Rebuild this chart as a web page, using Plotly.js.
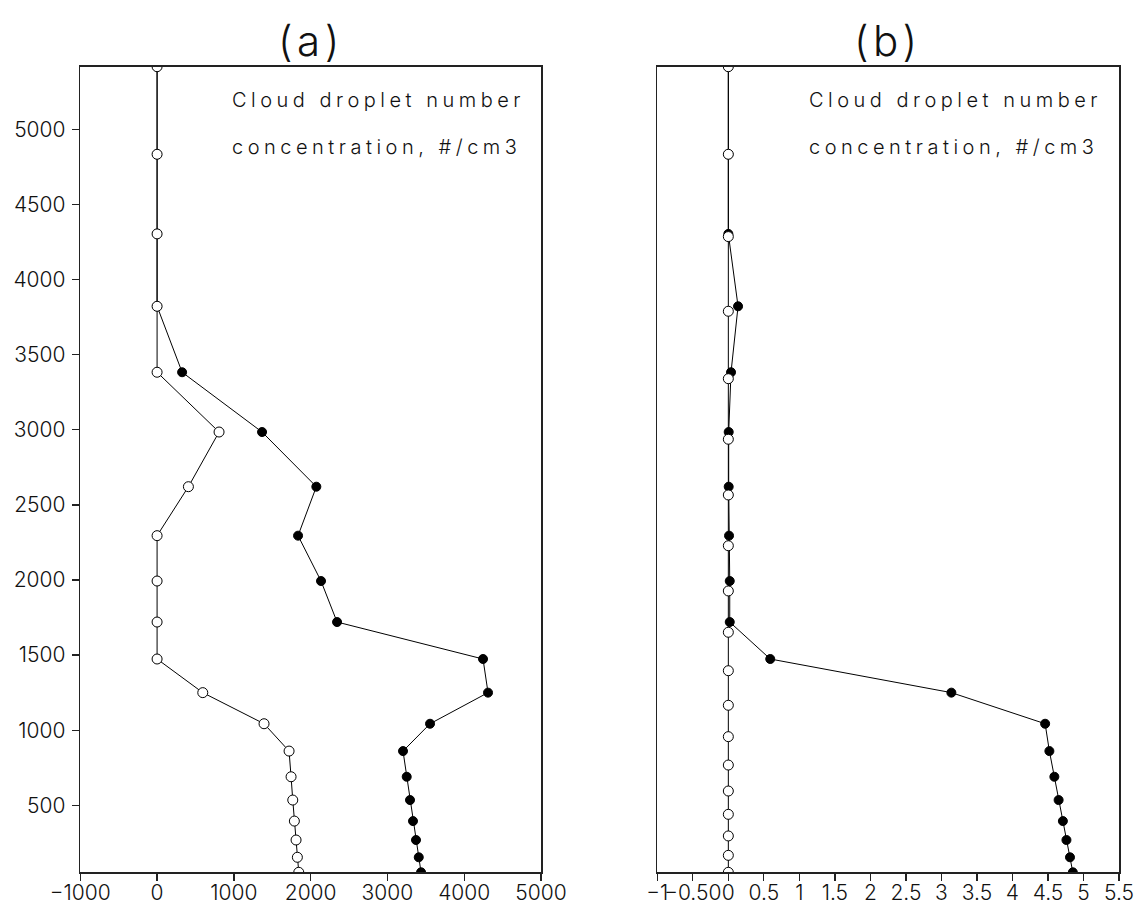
<!DOCTYPE html>
<html>
<head>
<meta charset="utf-8">
<script src="https://cdn.plot.ly/plotly-3.0.1.min.js"></script>
<style>
  html, body { margin: 0; padding: 0; background: #fff; }
  #chart { width: 1135px; height: 905px; }
  .annotation-text { letter-spacing: 4.5px; }
</style>
</head>
<body>
<div id="chart"></div>
<script>
// Heights (m) for panel (a) and the filled series of panel (b)
const levelsA = [54, 154, 269, 395, 535, 690, 861, 1043, 1250, 1474, 1720, 1993, 2295, 2621, 2985, 3383, 3822, 4304, 4834, 5417];
// Panel (a) values (#/cm3)
const aOpen   = [1845, 1827, 1810, 1788, 1767, 1745, 1719, 1393, 595, 0, 0, 0, 0, 408, 807, 0, 0, 0, 0, 0];
const aFilled = [3438, 3408, 3372, 3333, 3294, 3251, 3203, 3555, 4310, 4245, 2344, 2135, 1836, 2074, 1367, 326, 0, 0, 0, 0];
// Panel (b) values
const bFilled = [4.85, 4.81, 4.76, 4.71, 4.65, 4.59, 4.52, 4.46, 3.14, 0.59, 0.02, 0.02, 0.01, 0.005, 0.005, 0.038, 0.137, 0, 0, 0];
const levelsB = [54, 167, 296, 440, 595, 768, 957, 1166, 1396, 1652, 1927, 2228, 2566, 2937, 3340, 3789, 4286, 4834, 5417];
const bOpen   = [0, 0, 0, 0, 0, 0, 0, 0, 0, 0, 0, 0, 0, 0, 0, 0, 0, 0, 0];

// Tick labels
const aXTicks = [-1000, 0, 1000, 2000, 3000, 4000, 5000];
const aXTickText = ["\u22121000", "0", "1000", "2000", "3000", "4000", "5000"];
const yTicks = [500, 1000, 1500, 2000, 2500, 3000, 3500, 4000, 4500, 5000];
const bXTicks = [-1, -0.5, 0, 0.5, 1, 1.5, 2, 2.5, 3, 3.5, 4, 4.5, 5, 5.5];
const bXTickText = ["\u22121", "\u22120.50", "0", "0.5", "1", "1.5", "2", "2.5", "3", "3.5", "4", "4.5", "5", "5.5"];
const panelTitles = ["(a)", "(b)"];
const noteLines = ["Cloud droplet number", "concentration, #/cm3"];

const FONT = "Inter, 'DejaVu Sans', sans-serif";
const fontTick = { family: FONT, size: 21, color: "#111", weight: 300 };

const filledStyle = {
  mode: "lines+markers",
  line: { color: "#000", width: 1 },
  marker: { symbol: "circle", size: 9, color: "#000", line: { color: "#000", width: 1 } },
  showlegend: false, hoverinfo: "x+y"
};
const openStyle = {
  mode: "lines+markers",
  line: { color: "#000", width: 1 },
  marker: { symbol: "circle", size: 10, color: "#fff", line: { color: "#000", width: 1 } },
  showlegend: false, hoverinfo: "x+y"
};

const traces = [
  Object.assign({ x: aFilled, y: levelsA, xaxis: "x", yaxis: "y" }, filledStyle),
  Object.assign({ x: aOpen, y: levelsA, xaxis: "x", yaxis: "y" }, openStyle),
  Object.assign({ x: bFilled, y: levelsA, xaxis: "x2", yaxis: "y2" }, filledStyle),
  Object.assign({ x: bOpen, y: levelsB, xaxis: "x2", yaxis: "y2" }, openStyle)
];

const W = 1135, H = 905;
const frameA = [80.3, 541];
const frameB = [657.3, 1119];
const frameTop = 66.7, frameBottom = 872.3;
const yDom = [(H - frameBottom) / H, (H - frameTop) / H];

const axisCommon = {
  showline: true, mirror: true, linecolor: "#222", linewidth: 1.6,
  showgrid: false, zeroline: false, ticks: "outside", ticklen: 7, tickwidth: 1.3,
  tickcolor: "#222", tickfont: fontTick, tickangle: 0, automargin: false, fixedrange: true
};

const yRange = [levelsA[0], levelsA[levelsA.length - 1]];

const annotations = [];
[frameA, frameB].forEach((fr, i) => {
  annotations.push({
    xref: "paper", yref: "paper", x: (fr[0] + fr[1]) / 2 / W, y: (H - 40) / H,
    text: panelTitles[i], showarrow: false, xanchor: "center", yanchor: "middle",
    font: { family: FONT, size: 42, color: "#111", weight: 300 }
  });
  const xr = i === 0 ? "x domain" : "x2 domain";
  const yr = i === 0 ? "y domain" : "y2 domain";
  noteLines.forEach((t, j) => {
    annotations.push({
      xref: xr, yref: yr, x: 0.325, y: (frameBottom - (100 + 47 * j)) / (frameBottom - frameTop),
      text: t, showarrow: false, xanchor: "left", yanchor: "middle",
      font: { family: FONT, size: 20, color: "#111", weight: 300 }
    });
  });
});

const layout = {
  width: W, height: H,
  margin: { l: 0, r: 0, t: 0, b: 0 },
  paper_bgcolor: "#fff", plot_bgcolor: "#fff",
  font: { family: FONT, color: "#111" },
  showlegend: false,
  xaxis: Object.assign({}, axisCommon, {
    domain: [frameA[0] / W, frameA[1] / W], range: [-1000, 5000],
    tickmode: "array", tickvals: aXTicks, ticktext: aXTickText, anchor: "y",
    ticklabelstandoff: -6
  }),
  yaxis: Object.assign({}, axisCommon, {
    domain: yDom, range: yRange, tickmode: "array", tickvals: yTicks,
    ticklabelstandoff: 2, anchor: "x"
  }),
  xaxis2: Object.assign({}, axisCommon, {
    domain: [frameB[0] / W, frameB[1] / W], range: [-1, 5.5],
    tickmode: "array", tickvals: bXTicks, ticktext: bXTickText, anchor: "y2",
    ticklabelstandoff: -6
  }),
  yaxis2: Object.assign({}, axisCommon, {
    domain: yDom, range: yRange, ticks: "", showticklabels: false, anchor: "x2"
  }),
  annotations: annotations
};

Plotly.newPlot("chart", traces, layout, { displayModeBar: false, staticPlot: true });
</script>
</body>
</html>
